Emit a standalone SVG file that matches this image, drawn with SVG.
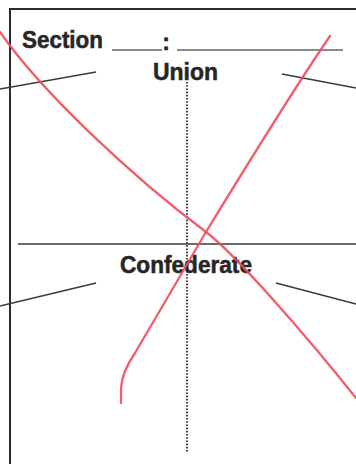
<svg xmlns="http://www.w3.org/2000/svg" width="356" height="464" viewBox="0 0 356 464">
  <style>
    .frame { stroke: #2b2b2b; stroke-width: 2; fill: none; }
    .rule { stroke: #3a3a3a; stroke-width: 1.5; fill: none; }
    .blank { stroke: #666; stroke-width: 1.3; fill: none; }
    .dots { stroke: #2a2a2a; stroke-width: 1.8; stroke-dasharray: 1.6 1.6; fill: none; }
    .red { stroke: #f04a5c; stroke-width: 2.3; fill: none; stroke-linecap: round; stroke-opacity: 0.9; }
    .lbl { font-family: "Liberation Sans", Arial, sans-serif; font-weight: bold; font-size: 23px; fill: #262626; stroke: #262626; stroke-width: 0.5; }
  </style>
  <rect width="356" height="464" fill="#ffffff"/>
  <g id="frame">
    <path class="frame" d="M10,464 L10,9 L356,9"/>
    <path class="rule" d="M18,244 L356,244"/>
  </g>
  <g id="header">
    <text class="lbl" x="22" y="48" textLength="81" lengthAdjust="spacingAndGlyphs">Section</text>
    <path class="blank" d="M112,50 L162,50 M177,50 L343,50"/>
    <text class="lbl" x="166" y="50" text-anchor="middle" font-size="16">:</text>
  </g>
  <g id="union">
    <text class="lbl" x="185.5" y="80" text-anchor="middle" textLength="65" lengthAdjust="spacingAndGlyphs">Union</text>
  </g>
  <g id="confederate">
    <text class="lbl" x="186" y="273" text-anchor="middle" textLength="132" lengthAdjust="spacingAndGlyphs">Confederate</text>
  </g>
  <g id="connectors">
    <path class="rule" d="M0,89 L96,72"/>
    <path class="rule" d="M282,74 L356,88"/>
    <path class="rule" d="M0,306 L96,283"/>
    <path class="rule" d="M276,283 L356,304"/>
    <path class="dots" d="M187,82 L187,452"/>
  </g>
  <g id="cross-out">
    <path class="red" d="M0,32 C40,90 130,175 206,232 C236,254.5 310,340 356,398"/>
    <path class="red" d="M330,36 C300,80 250,160 206,232 C185,268 160,310 135,353 Q122,372 121,388 L121,403"/>
  </g>
</svg>
